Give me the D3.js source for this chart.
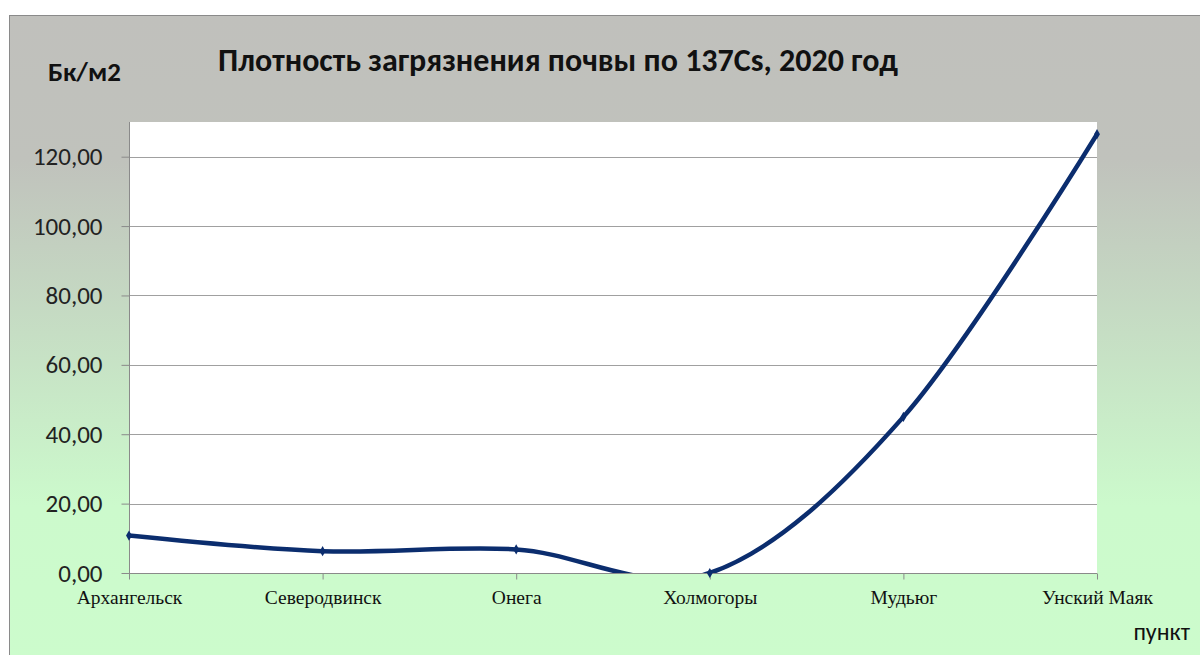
<!DOCTYPE html>
<html>
<head>
<meta charset="utf-8">
<script src="https://cdn.jsdelivr.net/npm/d3@7"></script>
<style>
  body { margin: 0; background: #fff; }
  svg { display: block; }
</style>
</head>
<body>
<div id="container"></div>
<script>
var categories = ['Архангельск', 'Северодвинск', 'Онега', 'Холмогоры', 'Мудьюг', 'Унский Маяк'];
var values = [10.8, 6.3, 6.8, 0.0, 45.0, 126.5];
var yTicks = [0, 20, 40, 60, 80, 100, 120];

var W = 1200, H = 655;
var plot = { left: 129, right: 1097, top: 122, bottom: 573 };

var svg = d3.select('#container').append('svg')
  .attr('width', W)
  .attr('height', H);

var defs = svg.append('defs');
var grad = defs.append('linearGradient')
  .attr('id', 'bg')
  .attr('x1', 0).attr('y1', 0).attr('x2', 0).attr('y2', 1);
grad.append('stop').attr('offset', '0%').attr('stop-color', '#c0c0bc');
grad.append('stop').attr('offset', '22%').attr('stop-color', '#c0c2bc');
grad.append('stop').attr('offset', '75%').attr('stop-color', '#ccfacc');
grad.append('stop').attr('offset', '100%').attr('stop-color', '#ccfccc');

defs.append('clipPath').attr('id', 'clip')
  .append('rect')
  .attr('x', plot.left).attr('y', plot.top)
  .attr('width', plot.right - plot.left)
  .attr('height', plot.bottom - plot.top);

// chart area
svg.append('rect')
  .attr('x', 9.5).attr('y', 15.5)
  .attr('width', W).attr('height', H)
  .attr('fill', 'url(#bg)')
  .attr('stroke', '#8a8a8a');

// plot area
svg.append('rect')
  .attr('x', plot.left).attr('y', plot.top)
  .attr('width', plot.right - plot.left)
  .attr('height', plot.bottom - plot.top)
  .attr('fill', '#fff');

var x = d3.scalePoint()
  .domain(categories)
  .range([plot.left, plot.right]);

var y = d3.scaleLinear()
  .domain([0, 130])
  .range([plot.bottom, plot.top]);

// gridlines
svg.append('g')
  .selectAll('line')
  .data(yTicks.slice(1))
  .enter()
  .append('line')
  .attr('x1', plot.left).attr('x2', plot.right)
  .attr('y1', function(d) { return Math.round(y(d)) + 0.5; })
  .attr('y2', function(d) { return Math.round(y(d)) + 0.5; })
  .attr('stroke', '#a0a0a0')
  .attr('stroke-width', 1);

// y axis
var yAxis = svg.append('g')
  .attr('transform', 'translate(' + (plot.left + 0.5) + ',0)')
  .call(d3.axisLeft(y).tickValues(yTicks).tickSize(8).tickPadding(19)
    .tickFormat(function(d) { return d3.format('.2f')(d).replace('.', ','); }));
yAxis.select('.domain').attr('stroke', '#8a8a8a').attr('d', 'M0,' + plot.top + 'V' + plot.bottom);
yAxis.selectAll('.tick line').attr('stroke', '#8a8a8a');
yAxis.selectAll('.tick text')
  .attr('fill', '#222')
  .style('font-family', 'Carlito, "Open Sans", sans-serif')
  .style('font-size', '25px');

// x axis
var xAxis = svg.append('g')
  .attr('transform', 'translate(0,' + (plot.bottom + 0.5) + ')')
  .call(d3.axisBottom(x).tickSize(6).tickPadding(11));
xAxis.select('.domain').attr('stroke', '#8a8a8a').attr('d', 'M' + plot.left + ',0H' + plot.right);
xAxis.selectAll('.tick line').attr('stroke', '#8a8a8a');
xAxis.selectAll('.tick text')
  .attr('fill', '#111')
  .style('font-family', '"Liberation Serif", "Times New Roman", serif')
  .style('font-size', '19.5px');

// series
var points = categories.map(function(c, i) { return { c: c, v: values[i] }; });

var line = d3.line()
  .x(function(d) { return x(d.c); })
  .y(function(d) { return y(d.v); })
  .curve(d3.curveCatmullRom.alpha(0));

svg.append('path')
  .datum(points)
  .attr('clip-path', 'url(#clip)')
  .attr('d', line)
  .attr('fill', 'none')
  .attr('stroke', '#0b2d6e')
  .attr('stroke-width', 4.5)
  .attr('stroke-linecap', 'round');

svg.append('g')
  .selectAll('path')
  .data(points)
  .enter()
  .append('path')
  .attr('transform', function(d) { return 'translate(' + x(d.c) + ',' + y(d.v) + ')'; })
  .attr('d', d3.symbol().type(d3.symbolDiamond).size(30))
  .attr('fill', '#0b2d6e');

// titles
svg.append('text')
  .attr('x', 558).attr('y', 71)
  .attr('text-anchor', 'middle')
  .style('font-family', 'Carlito, "Open Sans", sans-serif')
  .style('font-weight', 'bold')
  .style('font-size', '32px')
  .attr('fill', '#111')
  .text('Плотность загрязнения почвы по 137Cs, 2020 год');

svg.append('text')
  .attr('x', 48).attr('y', 81)
  .style('font-family', 'Carlito, "Open Sans", sans-serif')
  .style('font-weight', 'bold')
  .style('font-size', '27px')
  .attr('fill', '#111')
  .text('Бк/м2');

svg.append('text')
  .attr('x', 1190).attr('y', 640)
  .attr('text-anchor', 'end')
  .style('font-family', 'Carlito, "Open Sans", sans-serif')
  .style('font-size', '24px')
  .attr('fill', '#111')
  .text('пункт');
</script>
</body>
</html>
